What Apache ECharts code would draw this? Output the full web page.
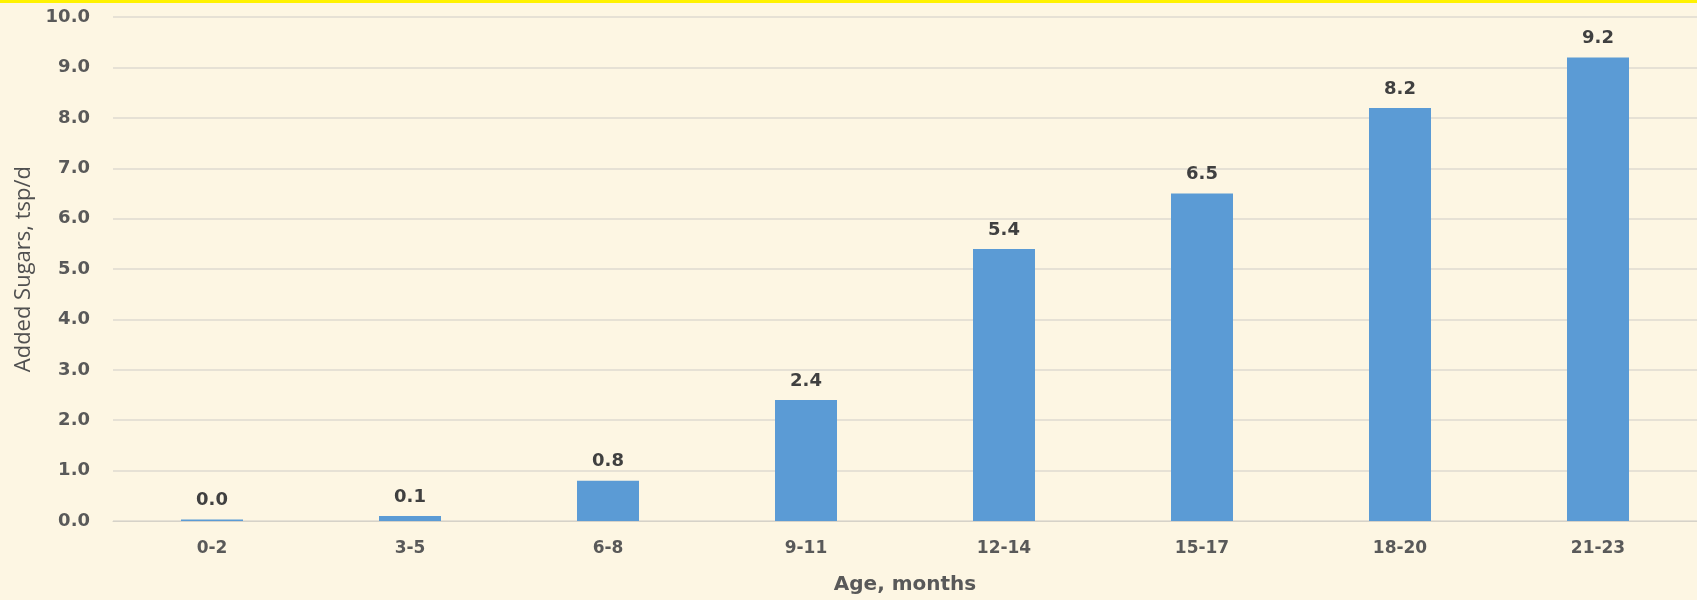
<!DOCTYPE html>
<html>
<head>
<meta charset="utf-8">
<script src="https://cdn.jsdelivr.net/npm/echarts@6/dist/echarts.min.js"></script>
<style>
  html, body { margin: 0; padding: 0; background: #FDF6E3; }
  #chart { width: 1697px; height: 600px; }
</style>
</head>
<body>
<div id="chart"></div>
<script>
// Age bands (months) and mean added sugars intake (teaspoons per day)
const ageGroups = ['0-2', '3-5', '6-8', '9-11', '12-14', '15-17', '18-20', '21-23'];
const addedSugars = [0.03, 0.1, 0.8, 2.4, 5.4, 6.5, 8.2, 9.2];
const yTicks = { min: 0, max: 10, interval: 1 };

const textColor = '#595959';
const numFont = '"DejaVu Sans", "Open Sans", sans-serif';
const titleFont = '"Open Sans", "DejaVu Sans", sans-serif';

const chart = echarts.init(document.getElementById('chart'), null, { renderer: 'canvas' });

chart.setOption({
  backgroundColor: '#FDF6E3',
  animation: false,
  textStyle: { fontFamily: numFont },
  graphic: [{
    type: 'rect',
    left: 0, top: 0,
    shape: { width: 1697, height: 3 },
    style: { fill: '#FFF200' },
    z: 100
  }],
  grid: { left: 113, top: 17.2, width: 1587, height: 505.8 },
  xAxis: {
    type: 'category',
    data: ageGroups,
    axisTick: { show: false },
    axisLine: { lineStyle: { color: '#D6D2C8', width: 1 } },
    axisLabel: { color: textColor, fontFamily: numFont, fontSize: 17, fontWeight: 'bold', margin: 19 },
    name: 'Age, months',
    nameLocation: 'middle',
    nameGap: 54,
    nameTextStyle: { color: textColor, fontFamily: numFont, fontSize: 20, fontWeight: 'bold' }
  },
  yAxis: {
    type: 'value',
    min: yTicks.min,
    max: yTicks.max,
    interval: yTicks.interval,
    axisLine: { show: false },
    axisTick: { show: false },
    splitLine: { lineStyle: { color: '#DEDAD0', width: 1.5 } },
    axisLabel: {
      color: textColor, fontFamily: numFont, fontSize: 18, fontWeight: 'bold', margin: 23,
      formatter: v => v.toFixed(1)
    },
    name: 'Added Sugars, tsp/d',
    nameLocation: 'middle',
    nameGap: 78,
    nameTextStyle: { color: '#505050', fontFamily: titleFont, fontSize: 22 }
  },
  series: [{
    type: 'bar',
    data: addedSugars,
    barWidth: 62,
    itemStyle: { color: '#5B9BD5' },
    label: {
      show: true,
      position: 'top',
      distance: 10,
      color: '#404040',
      fontFamily: numFont,
      fontSize: 18,
      fontWeight: 'bold',
      formatter: p => p.value.toFixed(1)
    }
  }]
});
</script>
</body>
</html>
